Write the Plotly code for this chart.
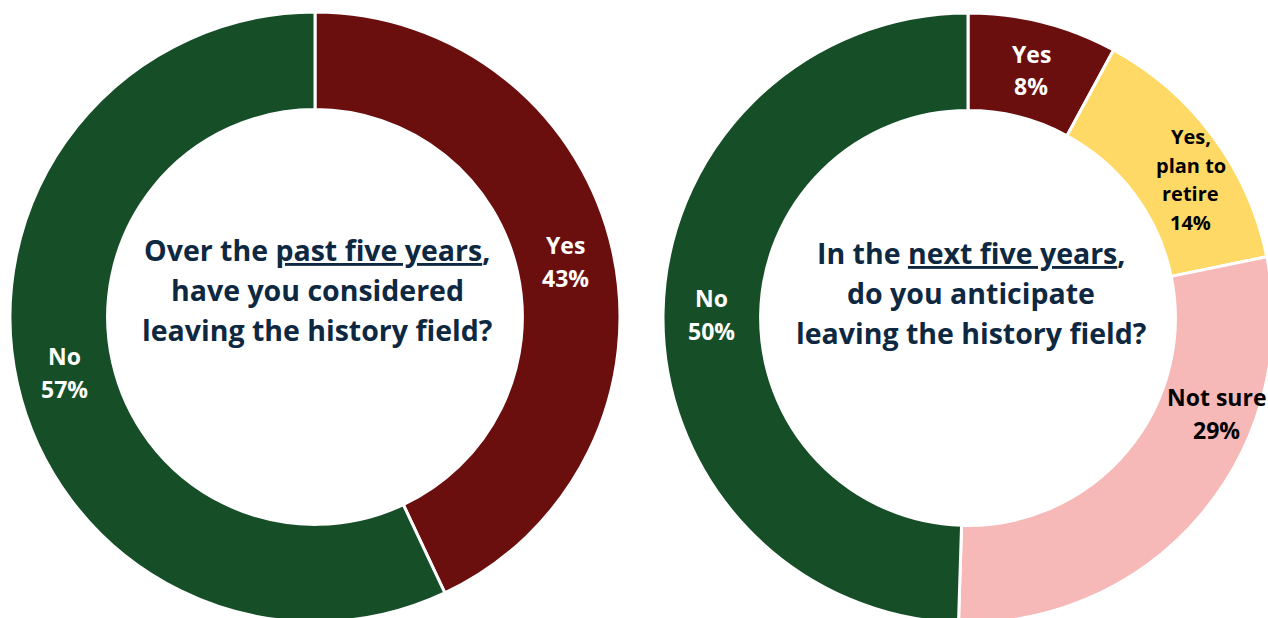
import math
import plotly.graph_objects as go

# ---- data -------------------------------------------------------------
past_labels = ["Yes", "No"]
past_values = [43, 57]
past_colors = ["#6B0E0E", "#164E28"]
past_text = ["Yes<br>43%", "No<br>57%"]
past_text_colors = ["white", "white"]

next_labels = ["Yes", "Yes, plan to retire", "Not sure", "No"]
next_values = [8, 14, 29, 50]
next_colors = ["#6B0E0E", "#FFD966", "#F7B8B8", "#164E28"]
next_text = ["Yes<br>8%", "Yes,<br>plan to<br>retire<br>14%", "Not sure<br>29%", "No<br>50%"]
next_text_colors = ["white", "black", "black", "white"]

past_question = ["Over the <u>past five years</u>,", "have you considered",
                 "leaving the history field?"]
next_question = ["In the <u>next five years</u>,", "do you anticipate",
                 "leaving the history field?"]

# ---- layout geometry (pixels) -----------------------------------------
W, H = 1280, 630
R = 305
HOLE = 0.68
FONT = "Open Sans"
NAVY = "#0E2841"

fig = go.Figure()


def add_donut(values, labels, colors, cx, cy):
    fig.add_trace(go.Pie(
        values=values, labels=labels, sort=False, direction="clockwise",
        rotation=0, hole=HOLE, textinfo="none", hoverinfo="label+percent",
        marker=dict(colors=colors, line=dict(color="white", width=3)),
        domain=dict(x=[(cx - R) / W, (cx + R) / W],
                    y=[(H - cy - R) / H, (H - cy + R) / H]),
        showlegend=False,
    ))


def add_lines(lines, x_px, y_px, size, color, spacing):
    n = len(lines)
    for i, line in enumerate(lines):
        dy = (i - (n - 1) / 2) * spacing
        fig.add_annotation(
            x=x_px / W, y=1 - (y_px + dy) / H, xref="paper", yref="paper",
            text="<b>" + line + "</b>", showarrow=False,
            xanchor="center", yanchor="middle",
            font=dict(family=FONT, size=size, color=color),
        )


def add_slice_labels(values, texts, colors, cx, cy, sizes, spacings, shifts):
    total = sum(values)
    rmid = R * (1 + HOLE) / 2
    cum = 0
    for v, t, c, s, sp, (sx, sy) in zip(values, texts, colors, sizes, spacings, shifts):
        theta = 2 * math.pi * (cum + v / 2) / total
        cum += v
        x = cx + rmid * math.sin(theta) + sx
        y = cy - rmid * math.cos(theta) + sy
        add_lines(t.split("<br>"), x, y, s, c, sp)


# left donut
L_CX, L_CY = 315, 317
add_donut(past_values, past_labels, past_colors, L_CX, L_CY)
add_slice_labels(past_values, past_text, past_text_colors, L_CX, L_CY,
                 [23, 23], [33, 33], [(0, 0), (0, 0)])
add_lines(past_question, L_CX + 2, L_CY - 27, 28.5, NAVY, 40)

# right donut
R_CX, R_CY = 968, 318
add_donut(next_values, next_labels, next_colors, R_CX, R_CY)
add_slice_labels(next_values, next_text, next_text_colors, R_CX, R_CY,
                 [23, 20, 23, 23], [32, 28.5, 33, 33],
                 [(0, 0), (17, 14), (53, -70), (0, 0)])
add_lines(next_question, R_CX + 3, R_CY - 25, 28.5, NAVY, 40)

fig.update_layout(
    width=W, height=H, margin=dict(l=0, r=0, t=0, b=0),
    paper_bgcolor="white", plot_bgcolor="white",
)

fig.write_html(
    "out.html",
    post_script="document.body.style.margin='0';"
                "document.body.style.overflow='hidden';"
                "document.documentElement.style.overflow='hidden';",
)
